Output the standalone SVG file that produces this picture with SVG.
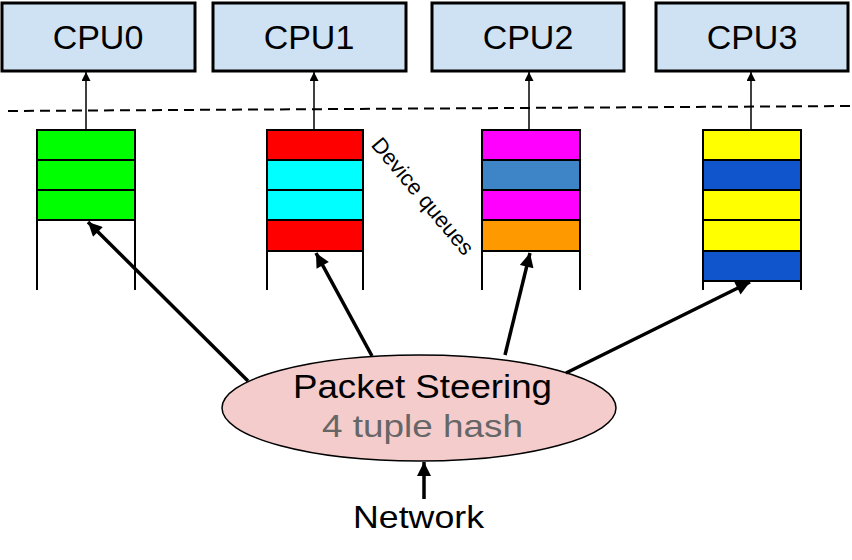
<svg xmlns="http://www.w3.org/2000/svg" width="852" height="560" viewBox="0 0 852 560">
<style>
.cpu{fill:#cfe2f3;stroke:#000;stroke-width:3}
.lbl{font-family:"Liberation Sans",Arial,sans-serif;fill:#000;text-anchor:middle}
.cell{stroke:#000;stroke-width:2}
.wall{stroke:#000;stroke-width:2;fill:none}
.thin{stroke:#000;stroke-width:1.5;fill:none}
.thick{stroke:#000;stroke-width:3.5;fill:none}
</style>
<defs>
<marker id="ah" viewBox="0 0 10 10" refX="10" refY="5" markerWidth="16" markerHeight="14" markerUnits="userSpaceOnUse" orient="auto"><path d="M0,0 L10,5 L0,10 z" fill="#000"/></marker>
<marker id="as" viewBox="0 0 10 10" refX="10" refY="5" markerWidth="11" markerHeight="9" markerUnits="userSpaceOnUse" orient="auto"><path d="M0,0 L10,5 L0,10 z" fill="#000"/></marker>
</defs>
<rect width="852" height="560" fill="#fff"/>
<g id="cpu0"><rect class="cpu" x="2" y="3" width="193" height="68"/><text class="lbl" x="98" y="49" font-size="34">CPU0</text></g>
<g id="cpu1"><rect class="cpu" x="213" y="3" width="193" height="68"/><text class="lbl" x="309" y="49" font-size="34">CPU1</text></g>
<g id="cpu2"><rect class="cpu" x="432" y="3" width="192" height="68"/><text class="lbl" x="528" y="49" font-size="34">CPU2</text></g>
<g id="cpu3"><rect class="cpu" x="656" y="3" width="192" height="68"/><text class="lbl" x="752" y="49" font-size="34">CPU3</text></g>
<line id="divider" x1="8" y1="111" x2="850" y2="106" stroke="#000" stroke-width="2" stroke-dasharray="10,6"/>
<g id="queue0">
<rect class="cell" x="37" y="130" width="98" height="30" fill="#00ff00"/>
<rect class="cell" x="37" y="160" width="98" height="30" fill="#00ff00"/>
<rect class="cell" x="37" y="190" width="98" height="30" fill="#00ff00"/>
<path class="wall" d="M37,130 V290 M135,130 V290"/>
</g>
<g id="queue1">
<rect class="cell" x="267" y="130" width="96" height="30" fill="#ff0000"/>
<rect class="cell" x="267" y="160" width="96" height="30" fill="#00ffff"/>
<rect class="cell" x="267" y="190" width="96" height="30" fill="#00ffff"/>
<rect class="cell" x="267" y="220" width="96" height="31" fill="#ff0000"/>
<path class="wall" d="M267,130 V290 M363,130 V290"/>
</g>
<g id="queue2">
<rect class="cell" x="482" y="130" width="98" height="30" fill="#ff00ff"/>
<rect class="cell" x="482" y="160" width="98" height="30" fill="#3d85c6"/>
<rect class="cell" x="482" y="190" width="98" height="30" fill="#ff00ff"/>
<rect class="cell" x="482" y="220" width="98" height="31" fill="#ff9900"/>
<path class="wall" d="M482,130 V290 M580,130 V290"/>
</g>
<g id="queue3">
<rect class="cell" x="703" y="130" width="98" height="30" fill="#ffff00"/>
<rect class="cell" x="703" y="160" width="98" height="30" fill="#1155cc"/>
<rect class="cell" x="703" y="190" width="98" height="30" fill="#ffff00"/>
<rect class="cell" x="703" y="220" width="98" height="31" fill="#ffff00"/>
<rect class="cell" x="703" y="251" width="98" height="30" fill="#1155cc"/>
<path class="wall" d="M703,130 V290 M801,130 V290"/>
</g>
<g id="device-queues-label"><text class="lbl" font-size="22" transform="translate(417,201) rotate(50)">Device queues</text></g>
<g id="steering">
<ellipse cx="419" cy="408" rx="197" ry="53" fill="#f4cccc" stroke="#000" stroke-width="1.5"/>
<text class="lbl" x="422.5" y="398" font-size="34" textLength="259" lengthAdjust="spacingAndGlyphs">Packet Steering</text>
<text class="lbl" x="422.5" y="437" font-size="32" style="fill:#666666" textLength="201" lengthAdjust="spacingAndGlyphs">4 tuple hash</text>
</g>
<g id="network"><text class="lbl" x="418.5" y="528" font-size="32" textLength="131" lengthAdjust="spacingAndGlyphs">Network</text></g>
<g id="connectors">
<line class="thin" x1="86" y1="130" x2="86" y2="72" marker-end="url(#as)"/>
<line class="thin" x1="314" y1="130" x2="314" y2="72" marker-end="url(#as)"/>
<line class="thin" x1="529" y1="130" x2="529" y2="72" marker-end="url(#as)"/>
<line class="thin" x1="751" y1="130" x2="751" y2="72" marker-end="url(#as)"/>
<line class="thick" x1="248" y1="381" x2="88" y2="222" marker-end="url(#ah)"/>
<line class="thick" x1="372" y1="356" x2="316" y2="253" marker-end="url(#ah)"/>
<line class="thick" x1="505" y1="355" x2="530" y2="253" marker-end="url(#ah)"/>
<line class="thick" x1="566" y1="373" x2="750" y2="282" marker-end="url(#ah)"/>
<line class="thick" x1="424" y1="499" x2="424" y2="462" marker-end="url(#ah)"/>
</g>
</svg>
